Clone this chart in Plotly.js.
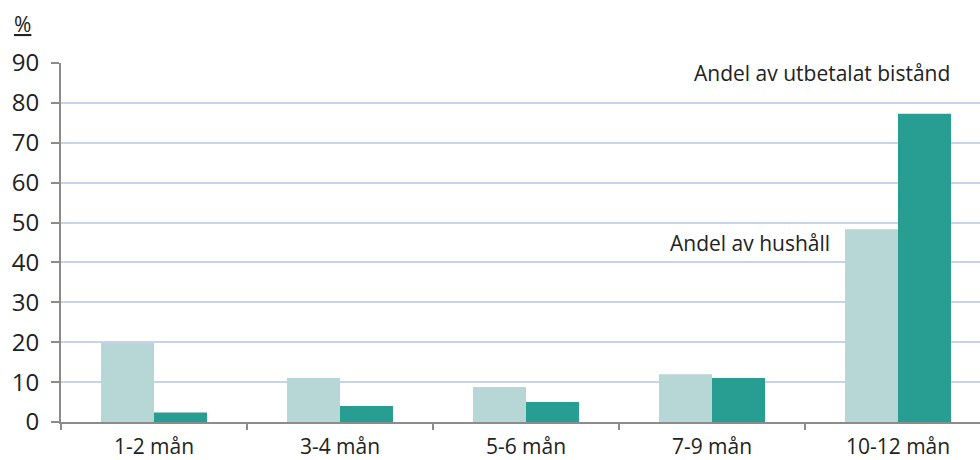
<!DOCTYPE html>
<html>
<head>
<meta charset="utf-8">
<script src="https://cdn.plot.ly/plotly-3.0.1.min.js"></script>
<style>
html,body{margin:0;padding:0;overflow:hidden;background:#fff;}
#chart{width:1000px;height:460px;}
</style>
</head>
<body>
<div id="chart"></div>
<script>
const categories = ["1-2 mån", "3-4 mån", "5-6 mån", "7-9 mån", "10-12 mån"];
const andelHushall = [19.8, 11.0, 8.8, 12.0, 48.3];
const andelBistand = [2.4, 4.0, 5.0, 11.0, 77.3];
const yTicks = [0, 10, 20, 30, 40, 50, 60, 70, 80, 90];
const labelHushall = "Andel av hushåll";
const labelBistand = "Andel av utbetalat bistånd";
const unitLabel = "%";

const traces = [
  {type: "bar", x: categories, y: andelHushall, name: labelHushall,
   marker: {color: "#b6d7d5"}, hoverinfo: "none"},
  {type: "bar", x: categories, y: andelBistand, name: labelBistand,
   marker: {color: "#289e93"}, hoverinfo: "none"}
];

const fam = "'Open Sans', Lato, sans-serif";
const txt = "#222";

const layout = {
  width: 1000, height: 460,
  margin: {l: 61, r: 9, t: 63, b: 38, pad: 0},
  paper_bgcolor: "#fff", plot_bgcolor: "#fff",
  showlegend: false,
  barmode: "group",
  bargap: 0.43,
  bargroupgap: 0,
  font: {family: fam, size: 20, color: txt},
  xaxis: {
    type: "category",
    showgrid: false,
    showline: true, linecolor: "#8c8c8c", linewidth: 2,
    ticks: "outside", tickson: "boundaries", ticklen: 6, tickwidth: 2, tickcolor: "#8c8c8c",
    tickfont: {family: fam, size: 21, color: txt},
    ticklabelstandoff: 5,
    zeroline: false, fixedrange: true
  },
  yaxis: {
    range: [0, 90], tickvals: yTicks,
    showgrid: true, gridcolor: "#c6d4ea", gridwidth: 2,
    showline: true, linecolor: "#8c8c8c", linewidth: 2,
    ticks: "outside", ticklen: 8, tickwidth: 2, tickcolor: "#8c8c8c",
    tickfont: {family: fam, size: 24, color: txt},
    ticklabelstandoff: 7,
    zeroline: false, fixedrange: true
  },
  annotations: [
    {text: "<u>" + unitLabel + "</u>", xref: "paper", yref: "paper", x: -0.053, y: 1.11,
     xanchor: "left", yanchor: "middle", showarrow: false,
     font: {family: fam, size: 21, color: txt}},
    {text: labelBistand, xref: "x", yref: "y", x: 4, y: 87.6,
     xanchor: "right", yanchor: "middle", showarrow: false, xshift: 54,
     font: {family: fam, size: 21, color: txt}},
    {text: labelHushall, xref: "x", yref: "y", x: 4, y: 45,
     xanchor: "right", yanchor: "middle", showarrow: false, xshift: -66,
     font: {family: fam, size: 21, color: txt}}
  ]
};

Plotly.newPlot("chart", traces, layout, {displayModeBar: false, staticPlot: true});
</script>
</body>
</html>
